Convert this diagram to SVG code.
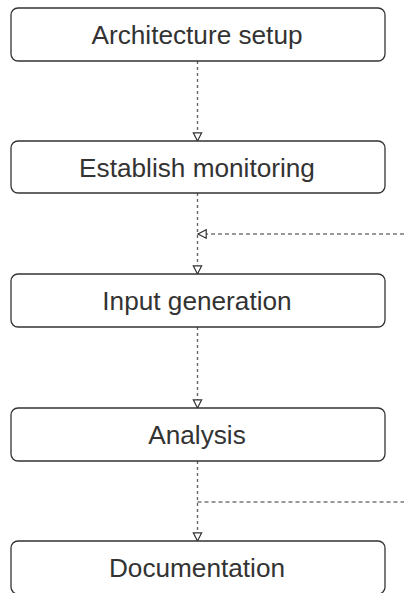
<svg xmlns="http://www.w3.org/2000/svg" width="404" height="593" viewBox="0 0 404 593">
<defs>
<style>
.box{fill:#fff;stroke:#333;stroke-width:1.3}
.lbl{font-family:"Liberation Sans",Arial,sans-serif;font-size:26.2px;fill:#333;text-anchor:middle}
.v{fill:none;stroke:#666;stroke-width:1.4;stroke-dasharray:3 3}
.h{fill:none;stroke:#333;stroke-width:1.2;stroke-dasharray:4 3}
</style>
<marker id="arr" markerWidth="11" markerHeight="11" refX="9" refY="5" orient="auto" markerUnits="userSpaceOnUse">
<path d="M0.8,0.8 L9,5 L0.8,9.2 Z" fill="#fff" stroke="#333" stroke-width="1.2"/>
</marker>
</defs>
<rect width="404" height="593" fill="#fff"/>
<g id="connectors">
<line class="v" x1="197.5" y1="61" x2="197.5" y2="141" marker-end="url(#arr)"/>
<line class="v" x1="197.5" y1="193" x2="197.5" y2="274" marker-end="url(#arr)"/>
<line class="h" x1="404" y1="234" x2="198" y2="234" marker-end="url(#arr)"/>
<line class="v" x1="197.5" y1="327" x2="197.5" y2="408" marker-end="url(#arr)"/>
<line class="v" x1="197.5" y1="461" x2="197.5" y2="541" marker-end="url(#arr)"/>
<line class="h" x1="197.5" y1="502" x2="404" y2="502"/>
</g>
<g id="n1"><rect class="box" x="11" y="8" width="374" height="53" rx="7"/><text class="lbl" x="197" y="43.5">Architecture setup</text></g>
<g id="n2"><rect class="box" x="11" y="141" width="374" height="52" rx="7"/><text class="lbl" x="197" y="176.5">Establish monitoring</text></g>
<g id="n3"><rect class="box" x="11" y="274" width="374" height="53" rx="7"/><text class="lbl" x="197" y="309.5">Input generation</text></g>
<g id="n4"><rect class="box" x="11" y="408" width="374" height="53" rx="7"/><text class="lbl" x="197" y="443.5">Analysis</text></g>
<g id="n5"><rect class="box" x="11" y="541" width="374" height="53" rx="7"/><text class="lbl" x="197" y="576.5">Documentation</text></g>
</svg>
